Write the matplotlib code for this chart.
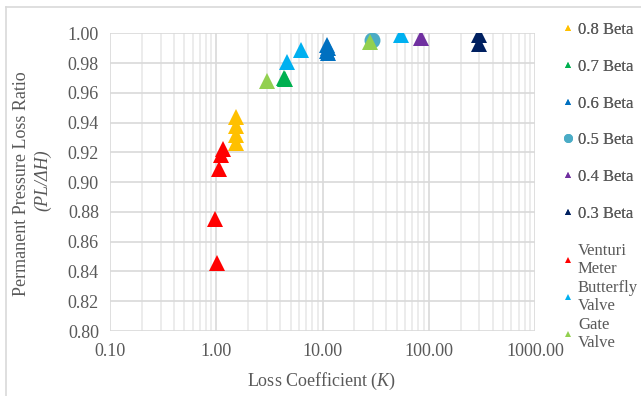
import matplotlib
matplotlib.use("Agg")
import matplotlib.pyplot as plt
from matplotlib.lines import Line2D
from matplotlib.ticker import FixedLocator, FuncFormatter, LogLocator

# series: loss coefficient K and PL/dH
beta08_k = [1.52, 1.52, 1.53, 1.52]
beta08_r = [0.926, 0.932, 0.938, 0.944]
beta07_k = [4.3, 4.4]
beta07_r = [0.970, 0.969]
beta06_k = [11.0, 11.2, 11.0, 11.3]
beta06_r = [0.992, 0.990, 0.988, 0.987]
beta05_k = [29.2]
beta05_r = [0.9955]
beta04_k = [85.0]
beta04_r = [0.997]
beta03_k = [297.0, 297.0]
beta03_r = [0.999, 0.993]
venturi_k = [1.02, 0.98, 1.06, 1.12, 1.17]
venturi_r = [0.846, 0.875, 0.909, 0.918, 0.922]
butterfly_k = [4.6, 6.3, 55.0]
butterfly_r = [0.981, 0.989, 0.999]
gate_k = [3.0, 28.1]
gate_r = [0.968, 0.9944]

beta_labels = ["0.8 Beta", "0.7 Beta", "0.6 Beta", "0.5 Beta", "0.4 Beta", "0.3 Beta"]
device_labels = ["Venturi\nMeter", "Butterfly\nValve", "Gate\nValve"]

plt.rcParams['font.family'] = ['Liberation Serif', 'DejaVu Serif']
plt.rcParams['mathtext.fontset'] = 'custom'
plt.rcParams['mathtext.rm'] = 'Liberation Serif'
plt.rcParams['mathtext.it'] = 'Liberation Serif:italic'

TXT = '#595959'
W, H = 641, 396
fig = plt.figure(figsize=(W / 100, H / 100), dpi=100)
ax = fig.add_axes([110 / W, 1 - 331 / H, (535 - 110) / W, (331 - 33.3) / H])

# chart border (Excel chart area), only left and top edges are in frame
fig.add_artist(Line2D([6 / W, 6 / W], [0, 1 - 7 / H], transform=fig.transFigure,
                      color='#d9d9d9', linewidth=1.2))
fig.add_artist(Line2D([6 / W, 1], [1 - 7 / H, 1 - 7 / H], transform=fig.transFigure,
                      color='#d9d9d9', linewidth=1.2))

series = [
    (beta08_k, beta08_r, '#FFC000', '^', 11),
    (beta07_k, beta07_r, '#00B050', '^', 11),
    (beta06_k, beta06_r, '#0070C0', '^', 11),
    (beta05_k, beta05_r, '#4BACC6', 'o', 11.5),
    (beta04_k, beta04_r, '#7030A0', '^', 11),
    (beta03_k, beta03_r, '#002060', '^', 11),
    (venturi_k, venturi_r, '#FF0000', '^', 11),
    (butterfly_k, butterfly_r, '#00B0F0', '^', 11),
    (gate_k, gate_r, '#92D050', '^', 11),
]
for k, r, c, m, ms in series:
    ax.plot(k, r, linestyle='none', marker=m, markersize=ms, color=c, markeredgewidth=0, zorder=3)

ax.set_xscale('log')
ax.set_xlim(0.1, 1000)
ax.set_ylim(0.80, 1.00)
ax.yaxis.set_major_locator(FixedLocator([0.80 + 0.02 * i for i in range(11)]))
ax.yaxis.set_major_formatter(FuncFormatter(lambda v, p: '%.2f' % v))
ax.xaxis.set_major_locator(LogLocator(base=10, numticks=10))
ax.xaxis.set_minor_locator(LogLocator(base=10, subs=range(2, 10), numticks=20))
ax.xaxis.set_major_formatter(FuncFormatter(lambda v, p: '%.2f' % v))
ax.xaxis.set_minor_formatter(FuncFormatter(lambda v, p: ''))
ax.grid(True, which='major', color='#d9d9d9', linewidth=1.2, zorder=0)
ax.grid(True, which='minor', axis='x', color='#ebebeb', linewidth=1.3, zorder=0)
ax.set_axisbelow(True)
for s in ax.spines.values():
    s.set_visible(False)
ax.tick_params(which='both', length=0, labelsize=13, labelcolor=TXT)
ax.tick_params(axis='x', pad=9)
ax.tick_params(axis='y', pad=8)

fig.text(22 / W, 1 - 184 / H, 'Permanent Pressure Loss Ratio', rotation=90, ha='center', va='center',
         fontsize=13, color=TXT)
fig.text(43 / W, 1 - 180 / H, '(PL/\u0394H)', rotation=90, ha='center', va='center',
         fontsize=13, color=TXT, style='italic')
fig.text(322 / W, 1 - 381 / H, 'Loss Coefficient ($K$)', ha='center', va='center',
         fontsize=13, color=TXT)

# legends
h1 = []
for (k, r, c, m, ms), lab in zip(series[:6], beta_labels):
    h1.append(Line2D([], [], linestyle='none', marker=m, color=c, markeredgewidth=0,
                     markersize=6.5 if m == 'o' else 5, label=lab))
h2 = []
for (k, r, c, m, ms), lab in zip(series[6:], device_labels):
    h2.append(Line2D([], [], linestyle='none', marker=m, color=c, markeredgewidth=0,
                     markersize=5, label=lab))

leg1 = fig.legend(handles=h1, loc='upper left', bbox_to_anchor=(563 / W, 1 - 22 / H),
                  frameon=False, fontsize=12, labelspacing=1.245, handlelength=0.6,
                  handletextpad=0.3, borderpad=0, borderaxespad=0, labelcolor=TXT)
leg2 = fig.legend(handles=h2, loc='upper left', bbox_to_anchor=(563 / W, 1 - 243 / H),
                  frameon=False, fontsize=12, labelspacing=0.15, handlelength=0.6,
                  handletextpad=0.3, borderpad=0, borderaxespad=0, labelcolor=TXT)
fig.add_artist(leg1)

fig.savefig('out.png', dpi=100)
